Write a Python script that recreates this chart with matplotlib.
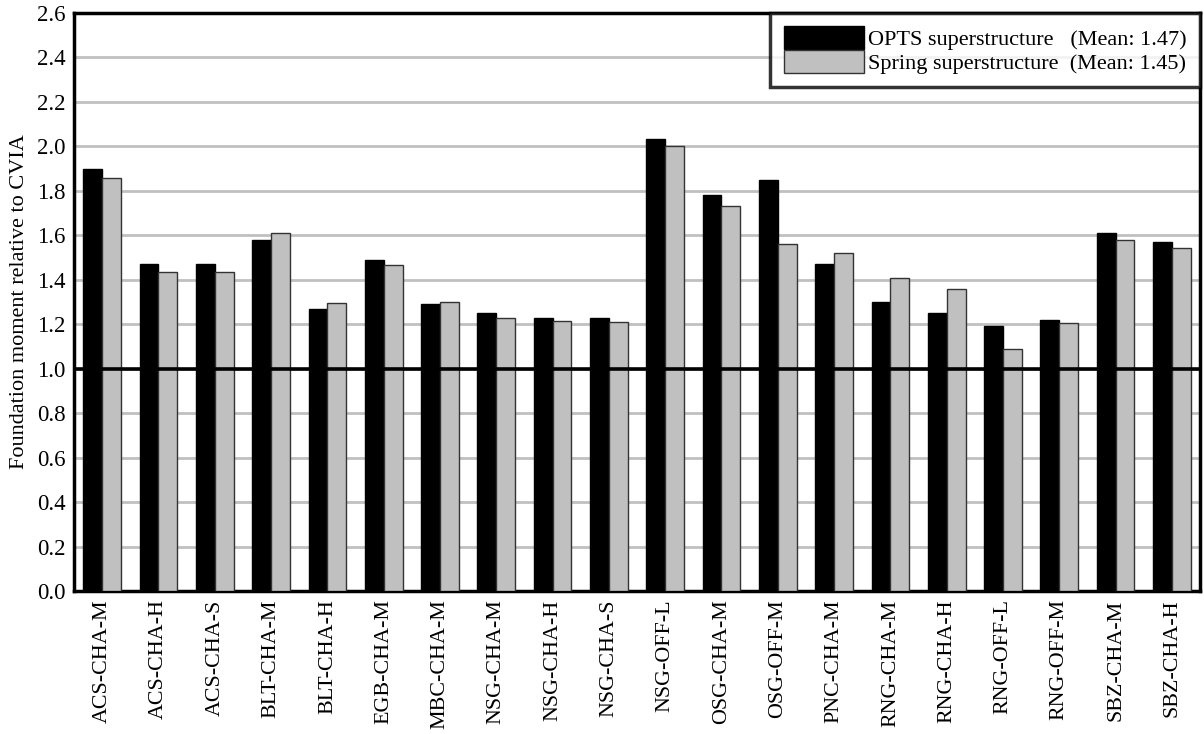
import matplotlib
matplotlib.use("Agg")
import matplotlib.pyplot as plt
import numpy as np

categories = ["ACS-CHA-M", "ACS-CHA-H", "ACS-CHA-S", "BLT-CHA-M", "BLT-CHA-H",
              "EGB-CHA-M", "MBC-CHA-M", "NSG-CHA-M", "NSG-CHA-H", "NSG-CHA-S",
              "NSG-OFF-L", "OSG-CHA-M", "OSG-OFF-M", "PNC-CHA-M", "RNG-CHA-M",
              "RNG-CHA-H", "RNG-OFF-L", "RNG-OFF-M", "SBZ-CHA-M", "SBZ-CHA-H"]
opts = [1.90, 1.47, 1.47, 1.58, 1.27, 1.49, 1.29, 1.25, 1.23, 1.23,
        2.035, 1.78, 1.85, 1.47, 1.30, 1.25, 1.19, 1.22, 1.61, 1.57]
spring = [1.86, 1.435, 1.435, 1.61, 1.295, 1.465, 1.30, 1.23, 1.215, 1.21,
          2.00, 1.73, 1.56, 1.52, 1.41, 1.36, 1.09, 1.207, 1.58, 1.545]
yticks = [0.0, 0.2, 0.4, 0.6, 0.8, 1.0, 1.2, 1.4, 1.6, 1.8, 2.0, 2.2, 2.4, 2.6]
labels = ["OPTS superstructure   (Mean: 1.47)", "Spring superstructure  (Mean: 1.45)"]

plt.rcParams['font.family'] = ['Liberation Serif', 'DejaVu Serif']

fig = plt.figure(figsize=(12.04, 7.34), dpi=100)
ax = fig.add_axes([0.0615, 0.1948, 0.9352, 0.7875])

x = np.arange(len(categories))
w = 0.335
ax.bar(x - w / 2, opts, w, color='black', edgecolor='black', linewidth=1, zorder=3, label=labels[0])
ax.bar(x + w / 2, spring, w, color='#c0c0c0', edgecolor='#333333', linewidth=1, zorder=3, label=labels[1])

ax.axhline(1.0, color='black', linewidth=2.6, zorder=4)

ax.set_xlim(-0.5, len(categories) - 0.5)
ax.set_ylim(0, 2.6)
ax.set_yticks(yticks)
ax.set_yticklabels([f"{v:.1f}" for v in yticks], fontsize=16.5)
ax.set_xticks(x)
ax.set_xticklabels(categories, rotation=90, fontsize=15.8)
ax.tick_params(axis='both', length=0, pad=6)
ax.yaxis.grid(True, color='#c0c0c0', linewidth=2, zorder=0)
ax.set_axisbelow(True)
for s in ax.spines.values():
    s.set_linewidth(2.5)
    s.set_color('black')

ax.set_ylabel("Foundation moment relative to CVIA", fontsize=16, labelpad=6)

leg = ax.legend(loc='upper right', fontsize=16, frameon=True, fancybox=False,
                borderaxespad=0.0, handlelength=3.6, handleheight=1.2,
                handletextpad=0.2, labelspacing=0.0, borderpad=0.6)
leg.get_frame().set_edgecolor('black')
leg.get_frame().set_linewidth(2.5)

fig.savefig("out.png", dpi=100)
